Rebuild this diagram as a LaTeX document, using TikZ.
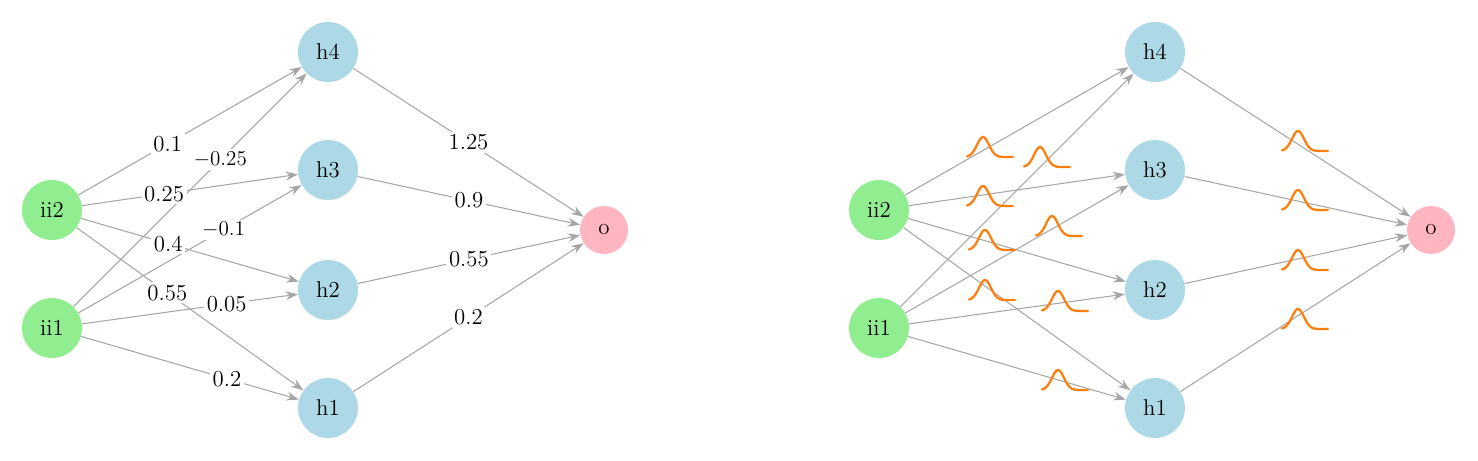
\documentclass[tikz,border=0pt]{standalone}
\usetikzlibrary{arrows.meta}
\begin{document}
\begin{tikzpicture}[x=0.02cm,y=-0.02cm,
  nd/.style={circle,minimum size=1.2cm,inner sep=0pt,font=\fontsize{13}{15}\selectfont},
  inn/.style={nd,fill=green!45!cyan!10!lime!50!green!45},
  hid/.style={nd,fill=cyan!30!blue!8!white!70!cyan!35},
  outn/.style={circle,minimum size=0.96cm,inner sep=0pt,fill=pink,font=\fontsize{13}{15}\selectfont},
  edge/.style={draw=black!35,line width=0.6pt,-{Stealth[length=7pt,width=5pt]}},
  wl/.style={fill=white,inner sep=1.5pt,font=\fontsize{13}{15}\selectfont},
  bump/.style={draw=orange!90!red,line width=1.3pt,line cap=round}]
\definecolor{ig}{HTML}{90EE90}\definecolor{hb}{HTML}{ADD8E6}\definecolor{pk}{HTML}{FFB6C1}\definecolor{og}{HTML}{FF7F0E}
\tikzset{inn/.append style={fill=ig},hid/.append style={fill=hb},outn/.append style={fill=pk},bump/.append style={draw=og}}
\useasboundingbox (0,0) rectangle (1478,460);
\newcommand{\bumpat}[2]{\draw[bump] plot[domain=-16:30,samples=40,smooth] ({#1+\x},{#2-20*exp(-(\x*\x)/(2*36))});}
% left network
\node[inn] (a2) at (52,210) {ii2};
\node[inn] (a1) at (52,328) {ii1};
\node[hid] (a4h) at (328,52) {h4};
\node[hid] (a3h) at (328,170) {h3};
\node[hid] (a2h) at (328,290) {h2};
\node[hid] (a1h) at (328,408) {h1};
\node[outn] (ao) at (604,230) {o};
\draw[edge] (a2) -- node[wl,pos=0.4]{0.1} (a4h);
\draw[edge] (a1) -- node[wl,pos=0.63]{$-0.25$} (a4h);
\draw[edge] (a2) -- node[wl,pos=0.38]{0.25} (a3h);
\draw[edge] (a1) -- node[wl,pos=0.65]{$-0.1$} (a3h);
\draw[edge] (a2) -- node[wl,pos=0.4]{0.4} (a2h);
\draw[edge] (a1) -- node[wl,pos=0.67]{0.05} (a2h);
\draw[edge] (a2) -- node[wl,pos=0.4]{0.55} (a1h);
\draw[edge] (a1) -- node[wl,pos=0.67]{0.2} (a1h);
\draw[edge] (a4h) -- node[wl,pos=0.5]{1.25} (ao);
\draw[edge] (a3h) -- node[wl,pos=0.5]{0.9} (ao);
\draw[edge] (a2h) -- node[wl,pos=0.5]{0.55} (ao);
\draw[edge] (a1h) -- node[wl,pos=0.5]{0.2} (ao);
% right network
\node[inn] (b2) at (879,210) {ii2};
\node[inn] (b1) at (879,328) {ii1};
\node[hid] (b4h) at (1155,52) {h4};
\node[hid] (b3h) at (1155,170) {h3};
\node[hid] (b2h) at (1155,290) {h2};
\node[hid] (b1h) at (1155,408) {h1};
\node[outn] (bo) at (1431,230) {o};
\foreach \s in {b2,b1}{\foreach \t in {b4h,b3h,b2h,b1h}{\draw[edge] (\s) -- (\t);}}
\foreach \t in {b4h,b3h,b2h,b1h}{\draw[edge] (\t) -- (bo);}
\bumpat{983}{157}
\bumpat{1040}{167}
\bumpat{983}{206}
\bumpat{1052}{236}
\bumpat{985}{250}
\bumpat{985}{300}
\bumpat{1058}{311}
\bumpat{1058}{390}
\bumpat{1298}{151}
\bumpat{1298}{210}
\bumpat{1298}{270}
\bumpat{1298}{329}
\end{tikzpicture}
\end{document}
